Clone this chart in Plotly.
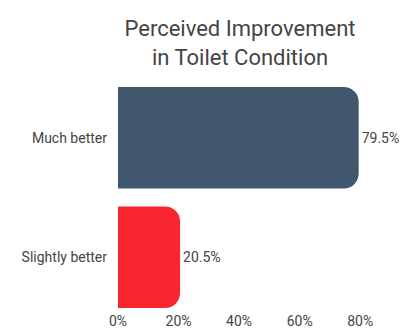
import plotly.graph_objects as go

categories = ["Much better", "Slightly better"]
values = [79.5, 20.5]
bar_colors = ["#41576D", "#F8262F"]
tick_vals = [0, 20, 40, 60, 80]
tick_text = ["0%", "20%", "40%", "60%", "80%"]
title_text = "Perceived Improvement<br>in Toilet Condition"

fig = go.Figure(
    go.Bar(
        x=values,
        y=categories,
        orientation="h",
        marker=dict(color=bar_colors, cornerradius=15, line=dict(width=0)),
        text=[f"{v:.1f}%" for v in values],
        textposition="outside",
        textfont=dict(size=14, color="#444444", family="Roboto"),
        cliponaxis=False,
        width=0.85,
    )
)

fig.update_layout(
    width=406,
    height=329,
    margin=dict(l=118, r=44, t=78, b=12),
    paper_bgcolor="white",
    plot_bgcolor="white",
    font=dict(family="Roboto", size=14, color="#444444"),
    title=dict(
        text=title_text,
        x=0.5,
        xref="paper",
        xanchor="center",
        y=1 - 36 / 329,
        yref="container",
        yanchor="middle",
        font=dict(size=22, color="#444444", family="Roboto"),
    ),
    showlegend=False,
    bargap=0.15,
)
fig.update_xaxes(
    range=[0, 80.6],
    tickvals=tick_vals,
    ticktext=tick_text,
    showgrid=False,
    zeroline=False,
    showline=False,
    ticks="",
    ticklabelstandoff=-6,
    automargin=False,
    tickfont=dict(size=14, color="#444444"),
)
fig.update_yaxes(
    categoryorder="array",
    categoryarray=categories,
    autorange="reversed",
    showgrid=False,
    zeroline=False,
    showline=False,
    ticks="",
    ticklabelstandoff=10,
    automargin=False,
    tickfont=dict(size=14, color="#444444"),
)

fig.write_html(
    "out.html",
    config={"displayModeBar": False},
    post_script="document.body.style.margin='0';document.body.style.padding='0';",
)
